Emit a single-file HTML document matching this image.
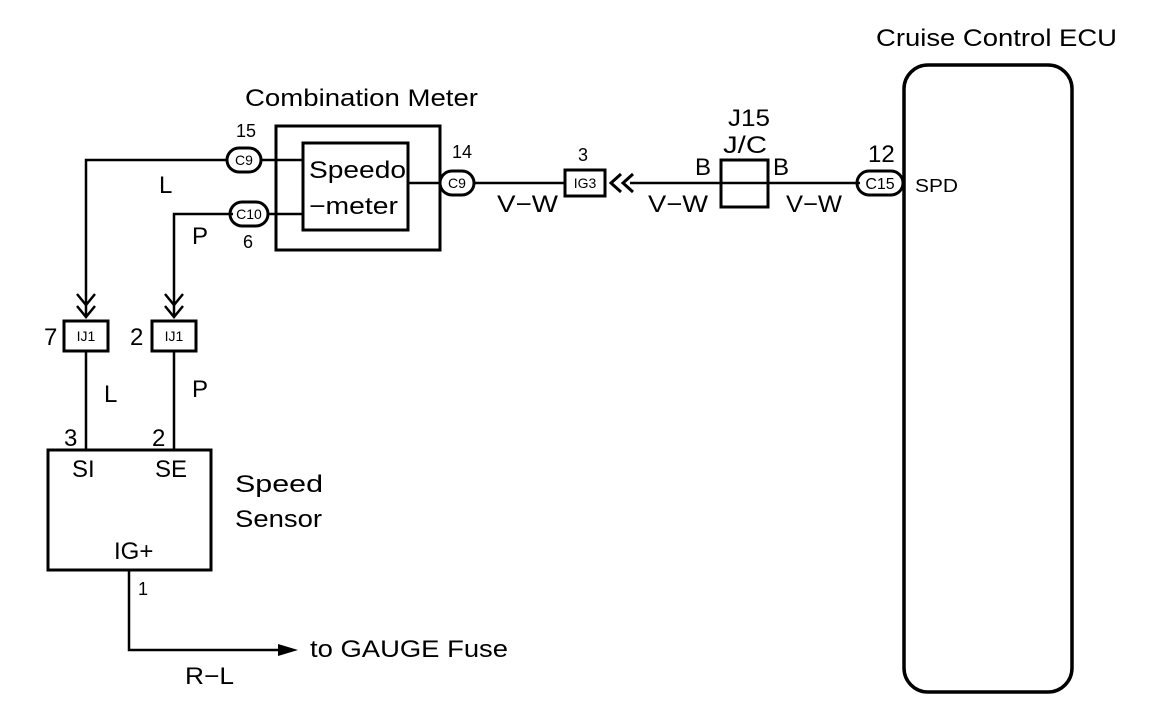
<!DOCTYPE html>
<html><head><meta charset="utf-8"><style>
html,body{margin:0;padding:0;background:#fff;}
svg{display:block;font-family:"Liberation Sans",sans-serif;}
</style></head><body>
<svg width="1152" height="704" viewBox="0 0 1152 704" xmlns="http://www.w3.org/2000/svg">
<g fill="none" stroke="#000" stroke-width="2.5">
<rect x="904" y="65" width="168" height="627" rx="24" stroke-width="3.5"/>
<rect x="276" y="126" width="164" height="124" stroke-width="3"/>
<rect x="303" y="143" width="105" height="87" stroke-width="3"/>
<line x1="260" y1="160" x2="303" y2="160"/>
<line x1="267" y1="214" x2="303" y2="214"/>
<line x1="408" y1="183" x2="440" y2="183"/>
<line x1="474" y1="183" x2="566" y2="183"/>
<line x1="630" y1="183" x2="860" y2="183"/>
<polyline points="228,160 86,160 86,316"/>
<polyline points="233,214 174,214 174,316"/>
<polyline points="77,294 86,305 95,294"/>
<polyline points="77,306 86,317 95,306"/>
<polyline points="165,294 174,305 183,294"/>
<polyline points="165,306 174,317 183,306"/>
<polyline points="621,174 611,183 621,192" stroke-width="3"/>
<polyline points="633,174 623,183 633,192" stroke-width="3"/>
<rect x="227" y="148" width="34" height="24" rx="12" stroke-width="3"/>
<rect x="230" y="202" width="38" height="24" rx="12" stroke-width="3"/>
<rect x="440" y="171" width="34" height="24" rx="12" stroke-width="3"/>
<rect x="857" y="171" width="46" height="24" rx="12" stroke-width="3"/>
<rect x="565" y="170" width="40" height="26" stroke-width="3"/>
<rect x="721" y="160" width="47" height="47" stroke-width="3"/>
<rect x="64" y="321" width="44" height="30" stroke-width="3"/>
<rect x="152" y="321" width="44" height="30" stroke-width="3"/>
<line x1="86" y1="351" x2="86" y2="450"/>
<line x1="174" y1="351" x2="174" y2="450"/>
<rect x="48" y="450" width="163" height="120" stroke-width="3"/>
<polyline points="129,570 129,650 285,650"/>
</g>
<polygon points="278,644 298,650 278,656" fill="#000"/>
<g fill="#000" font-size="24">
<text x="876" y="46" textLength="241" lengthAdjust="spacingAndGlyphs">Cruise Control ECU</text>
<text x="245" y="106" textLength="233" lengthAdjust="spacingAndGlyphs">Combination Meter</text>
<text x="309" y="178" textLength="97" lengthAdjust="spacingAndGlyphs">Speedo</text>
<text x="309" y="214" textLength="89" lengthAdjust="spacingAndGlyphs">−meter</text>
<text x="159" y="193">L</text>
<text x="192" y="244">P</text>
<text x="497" y="212" textLength="61" lengthAdjust="spacingAndGlyphs">V−W</text>
<text x="648" y="212" textLength="60" lengthAdjust="spacingAndGlyphs">V−W</text>
<text x="786" y="212" textLength="56" lengthAdjust="spacingAndGlyphs">V−W</text>
<text x="695" y="175">B</text>
<text x="773" y="175">B</text>
<text x="728" y="126" textLength="42" lengthAdjust="spacingAndGlyphs">J15</text>
<text x="723" y="153" textLength="44" lengthAdjust="spacingAndGlyphs">J/C</text>
<text x="868" y="162">12</text>
<text x="104" y="402">L</text>
<text x="192" y="397">P</text>
<text x="64" y="446">3</text>
<text x="152" y="446">2</text>
<text x="72" y="477">SI</text>
<text x="155" y="477">SE</text>
<text x="235" y="492" textLength="88" lengthAdjust="spacingAndGlyphs">Speed</text>
<text x="235" y="527" textLength="87" lengthAdjust="spacingAndGlyphs">Sensor</text>
<text x="114" y="559">IG+</text>
<text x="310" y="657" textLength="198" lengthAdjust="spacingAndGlyphs">to GAUGE Fuse</text>
<text x="185" y="684" textLength="49" lengthAdjust="spacingAndGlyphs">R−L</text>
<text x="44" y="345">7</text>
<text x="130" y="345">2</text>
</g>
<g fill="#000" font-size="18">
<text x="236" y="137">15</text>
<text x="243" y="248">6</text>
<text x="452" y="158">14</text>
<text x="578" y="161">3</text>
<text x="138" y="595">1</text>
<text x="915" y="192" textLength="43" lengthAdjust="spacingAndGlyphs">SPD</text>
</g>
<g fill="#000" font-size="14">
<text x="244" y="165" text-anchor="middle">C9</text>
<text x="249" y="219" text-anchor="middle">C10</text>
<text x="457" y="188" text-anchor="middle">C9</text>
<text x="880" y="189" text-anchor="middle" font-size="16">C15</text>
<text x="585" y="188" text-anchor="middle">IG3</text>
<text x="86" y="341" text-anchor="middle">IJ1</text>
<text x="174" y="341" text-anchor="middle">IJ1</text>
</g>
</svg>
</body></html>
